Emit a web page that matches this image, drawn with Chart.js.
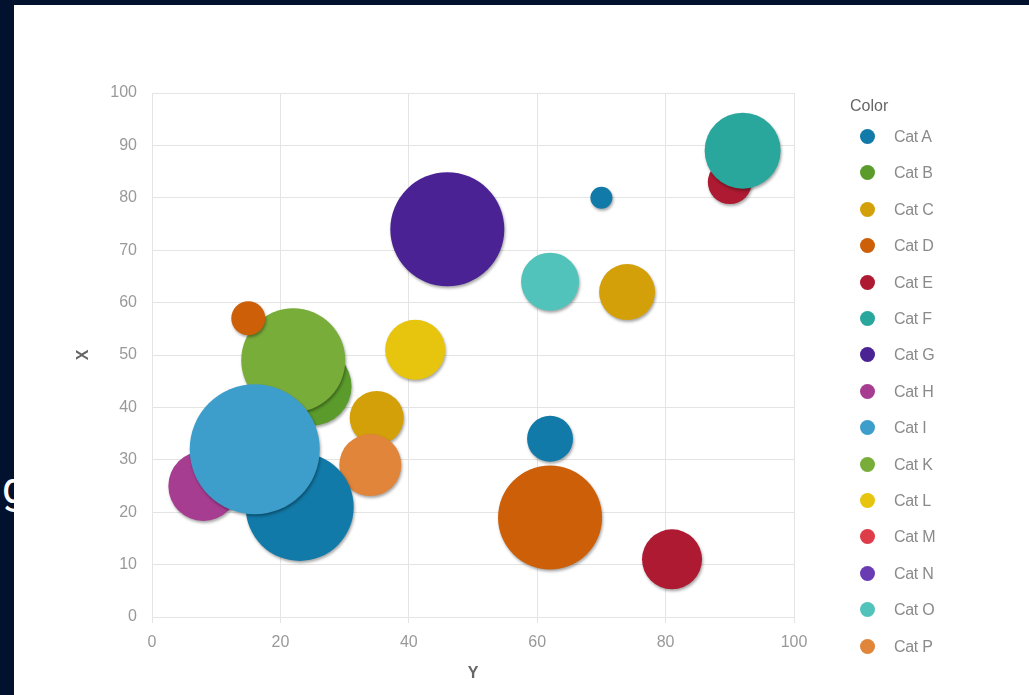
<!DOCTYPE html>
<html>
<head>
<meta charset="utf-8">
<script src="https://cdn.jsdelivr.net/npm/chart.js@4/dist/chart.umd.min.js"></script>
<style>
  html, body { margin: 0; padding: 0; width: 1029px; height: 695px; overflow: hidden; background: #01112e; }
  #behind { position: absolute; left: 2px; top: 466px; color: #fff; font: 44px/44px Roboto, sans-serif; }
  #panel { position: absolute; left: 14px; top: 5px; width: 1015px; height: 690px; background: #fff; }
  #wrap { position: absolute; left: 0; top: 0; width: 1015px; height: 690px; }
  #legend { position: absolute; left: 0; top: 0; font-family: Arial, "Liberation Sans", sans-serif; }
  #legend .title { position: absolute; left: 836px; top: 91px; font-size: 16px; line-height: 20px; color: #666; white-space: nowrap; }
  #legend .item { position: absolute; left: 846px; height: 20px; white-space: nowrap; }
  #legend .dot { position: absolute; left: 0; top: 2px; width: 15px; height: 15px; border-radius: 50%; }
  #legend .txt { position: absolute; left: 34px; top: 0; font-size: 16px; line-height: 20px; color: #8a8a8a; letter-spacing: -0.3px; }
</style>
</head>
<body>
<div id="behind">g</div>
<div id="panel">
  <div id="wrap"><canvas id="bubbles"></canvas></div>
  <div id="legend"></div>
</div>
<script>
// legend categories and their colours
const categories = ['Cat A', 'Cat B', 'Cat C', 'Cat D', 'Cat E', 'Cat F', 'Cat G', 'Cat H',
                    'Cat I', 'Cat K', 'Cat L', 'Cat M', 'Cat N', 'Cat O', 'Cat P'];
const catColors = ['#127aa8', '#5a9b2b', '#d3a00a', '#cc5f07', '#ad1a31', '#2aa79c', '#4a2293', '#a73d90',
                   '#3d9ecb', '#79ad3a', '#e7c40e', '#dd3c48', '#6a3cb3', '#52c3bb', '#e0853a'];

// one entry per bubble
const pointCategory = ['Cat A', 'Cat A', 'Cat A', 'Cat B', 'Cat C', 'Cat C', 'Cat D', 'Cat D', 'Cat E',
                       'Cat E', 'Cat F', 'Cat G', 'Cat H', 'Cat I', 'Cat K', 'Cat L', 'Cat O', 'Cat P'];
const yValues    = [23, 62, 70, 25, 35, 74, 15, 62, 81, 90, 92, 46,  8, 16, 22, 41, 62, 34]; // horizontal axis "Y"
const xValues    = [21, 34, 80, 44, 38, 62, 57, 19, 11, 83, 89, 74, 25, 32, 49, 51, 64, 29]; // vertical axis "X"
const sizeValues = [54, 23, 11, 39, 27, 28, 17, 52, 30, 22, 38, 57, 35, 65, 52, 30, 29, 31];

const xTicksStep = 20;
const yTicksStep = 10;

const datasets = categories.map((cat, i) => {
  const pts = [];
  pointCategory.forEach((c, j) => {
    if (c === cat) pts.push({ x: yValues[j], y: xValues[j], r: sizeValues[j] });
  });
  const biggest = pts.length ? Math.max(...pts.map(p => p.r)) : 0;
  return {
    label: cat,
    data: pts,
    backgroundColor: catColors[i],
    borderWidth: 0,
    hoverBorderWidth: 0,
    order: -biggest,   // big bubbles on top
    clip: false
  };
});

// soft drop shadow under the bubbles
const bubbleShadow = {
  id: 'bubbleShadow',
  beforeDatasetsDraw(chart) {
    const c = chart.ctx;
    c.save();
    c.shadowColor = 'rgba(0,0,0,0.35)';
    c.shadowBlur = 3;
    c.shadowOffsetX = 1;
    c.shadowOffsetY = 2;
  },
  afterDatasetsDraw(chart) {
    chart.ctx.restore();
  }
};

const tickFont = { family: 'Arial, "Liberation Sans", sans-serif', size: 16 };
const titleFont = { family: 'Arial, "Liberation Sans", sans-serif', size: 16, weight: 'bold' };

new Chart(document.getElementById('bubbles'), {
  type: 'bubble',
  data: { datasets: datasets },
  options: {
    responsive: true,
    maintainAspectRatio: false,
    animation: false,
    events: [],
    layout: { padding: { top: 88, right: 235, bottom: 0, left: 0 } },
    plugins: {
      legend: { display: false },
      tooltip: { enabled: false }
    },
    scales: {
      x: {
        type: 'linear',
        min: 0,
        max: 100,
        ticks: { stepSize: xTicksStep, color: '#999', font: tickFont, padding: 10 },
        grid: { color: '#e4e4e4', tickLength: 6 },
        border: { color: '#e4e4e4' },
        title: { display: true, text: 'Y', color: '#666', font: titleFont, padding: { top: 0, bottom: 12 } },
        afterFit(scale) { scale.height = 78; }
      },
      y: {
        type: 'linear',
        min: 0,
        max: 100,
        ticks: { stepSize: yTicksStep, color: '#999', font: tickFont, padding: 15 },
        grid: { color: '#e4e4e4', drawTicks: false },
        border: { color: '#e4e4e4' },
        title: { display: true, text: 'X', color: '#666', font: titleFont, padding: { top: 60, bottom: 0 } },
        afterFit(scale) { scale.width = 138; }
      }
    }
  },
  plugins: [bubbleShadow]
});

// legend at the right, built from the same category list
const legend = document.getElementById('legend');
const t = document.createElement('div');
t.className = 'title';
t.textContent = 'Color';
legend.appendChild(t);
categories.forEach((cat, i) => {
  const row = document.createElement('div');
  row.className = 'item';
  row.style.top = (122 + i * 36.4) + 'px';
  const dot = document.createElement('div');
  dot.className = 'dot';
  dot.style.background = catColors[i];
  const txt = document.createElement('div');
  txt.className = 'txt';
  txt.textContent = cat;
  row.appendChild(dot);
  row.appendChild(txt);
  legend.appendChild(row);
});
</script>
</body>
</html>
